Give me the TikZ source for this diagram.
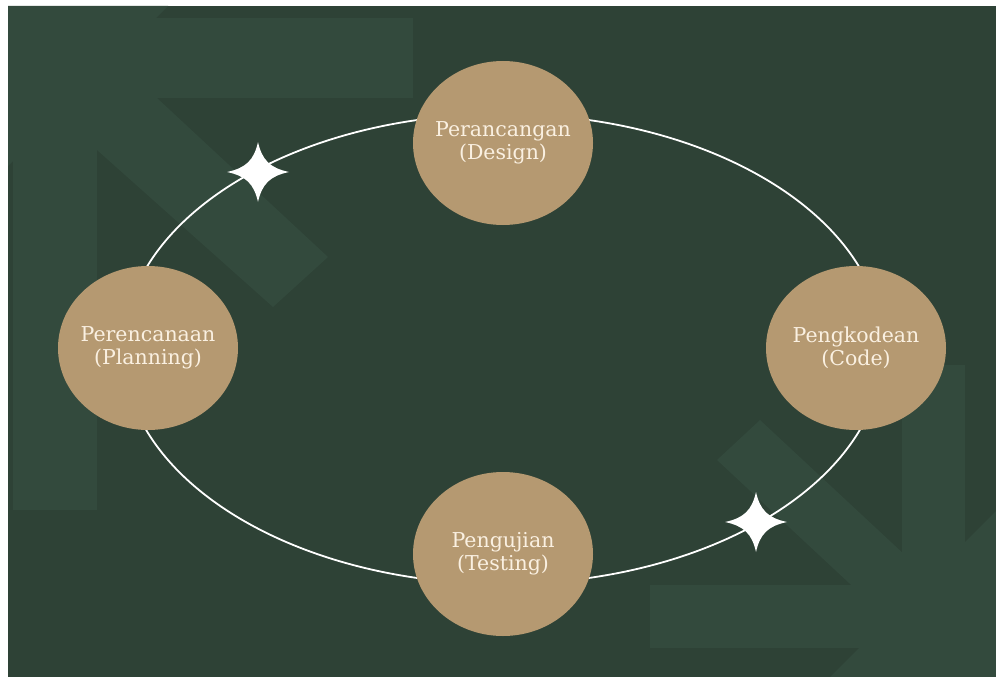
\documentclass[tikz,border=0pt]{standalone}
\usepackage{fontspec}
\setmainfont{DejaVu Serif}
\usetikzlibrary{shapes.geometric,calc}
\definecolor{bgdark}{RGB}{46,66,54}
\definecolor{bglight}{RGB}{51,74,61}
\definecolor{tan}{RGB}{181,153,113}
\definecolor{cream}{RGB}{250,240,225}
\tikzset{
  phase/.style={shape=ellipse, fill=tan, minimum width=180pt, minimum height=164pt, inner sep=-8pt,
    text=cream, align=center, font=\fontsize{20.5}{23}\selectfont},
  ring/.style={draw=white, line width=1.8pt},
  deco/.style={fill=bglight},
  sparkle/.style={fill=white}
}
\newcommand{\starshape}[1]{%
  \fill[sparkle] ($(#1)+(0,-30)$) .. controls ($(#1)+(4,-12)$) and ($(#1)+(12,-4)$) .. ($(#1)+(31,0)$)
    .. controls ($(#1)+(12,4)$) and ($(#1)+(4,12)$) .. ($(#1)+(0,30)$)
    .. controls ($(#1)+(-4,12)$) and ($(#1)+(-12,4)$) .. ($(#1)+(-31,0)$)
    .. controls ($(#1)+(-12,-4)$) and ($(#1)+(-4,-12)$) .. cycle;}
\begin{document}
\begin{tikzpicture}[x=1pt,y=-1pt]
\useasboundingbox (0,0) rectangle (996,677);
\fill[white] (0,0) rectangle (996,677);
\fill[bgdark] (8,6) rectangle (996,677);
% top-left decorative arrow
\fill[deco] (8,6) -- (168,6) -- (8,166) -- cycle;
\fill[deco] (13,18) rectangle (413,98);
\fill[deco] (13,18) rectangle (97,510);
\fill[deco] (97,98) -- (157,98) -- (328,257) -- (273,307) -- (97,150) -- cycle;
% bottom-right decorative arrow
\fill[deco] (996,511) -- (996,677) -- (830,677) -- cycle;
\fill[deco] (650,585) rectangle (996,648);
\fill[deco] (902,365) rectangle (965,677);
\fill[deco] (717,460) -- (760,420) -- (965,611) -- (922,651) -- cycle;
% ring
\coordinate (ctr) at (503,349);
\draw[ring] (ctr) ellipse [x radius=380, y radius=235];
% phases
\node[phase] (design) at (503,143) {Perancangan\\(Design)};
\node[phase] (planning) at (148,348) {Perencanaan\\(Planning)};
\node[phase] (code) at (856,348) {Pengkodean\\(Code)};
\node[phase] (testing) at (503,554) {Pengujian\\(Testing)};
% sparkles
\coordinate (s1) at (258,172);
\coordinate (s2) at (756,522);
\starshape{s1}
\starshape{s2}
\end{tikzpicture}
\end{document}
